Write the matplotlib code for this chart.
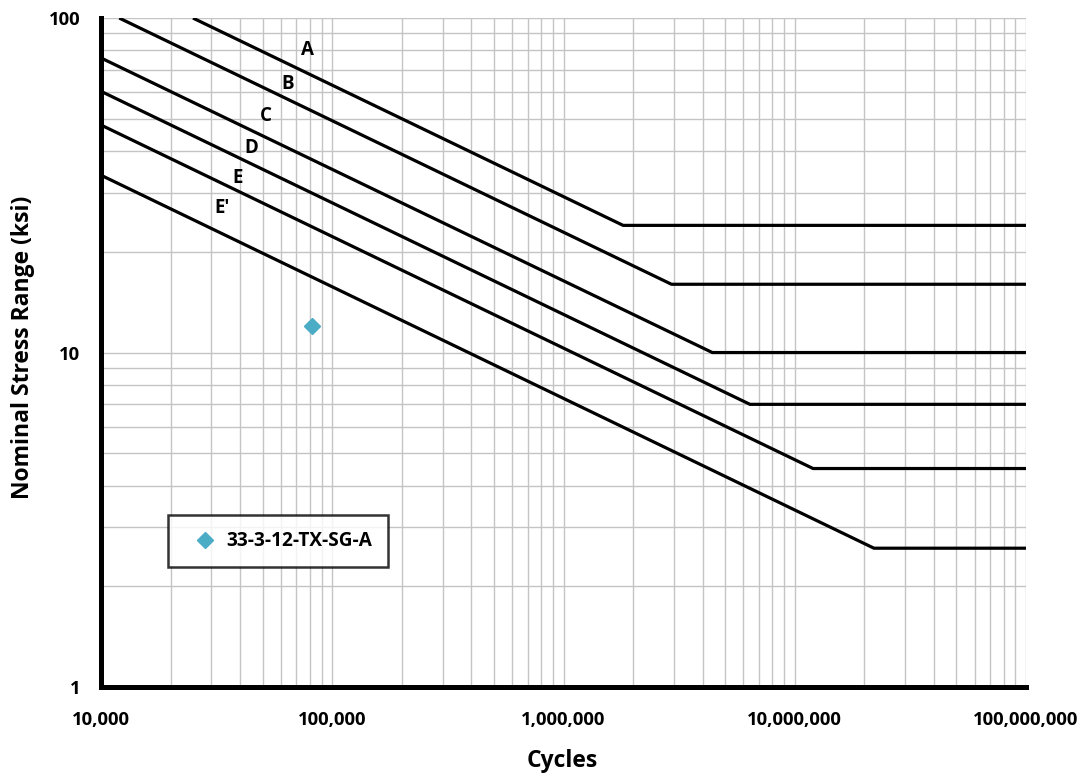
import matplotlib
matplotlib.use("Agg")
import matplotlib.pyplot as plt
from matplotlib.ticker import FixedLocator, LogLocator, NullFormatter

plt.rcParams['font.family'] = ['Open Sans', 'DejaVu Sans']
plt.rcParams['font.weight'] = 'bold'

# S-N curve knee points (cycles, stress range ksi)
categories = ["A", "B", "C", "D", "E", "E'"]
curve_n = [
    [25000, 1.81e6, 1e8],
    [12000, 2.93e6, 1e8],
    [10000, 4.4e6, 1e8],
    [10000, 6.4e6, 1e8],
    [10000, 1.2e7, 1e8],
    [10000, 2.2e7, 1e8],
]
curve_s = [
    [100, 24, 24],
    [100, 16, 16],
    [76, 10, 10],
    [60.4, 7, 7],
    [47.9, 4.5, 4.5],
    [33.9, 2.6, 2.6],
]
# positions of the curve letters
label_n = [77900, 64400, 51600, 44600, 39100, 33400]
label_s = [80.2, 63.5, 50.9, 40.8, 33.3, 27.0]

test_name = "33-3-12-TX-SG-A"
test_n = [82000]
test_s = [12]

fig = plt.figure(figsize=(10.87, 7.76), dpi=100)
ax = fig.add_axes([0.0929, 0.1147, 0.851, 0.862])

for xs, ys in zip(curve_n, curve_s):
    ax.plot(xs, ys, color="black", lw=2.3, solid_capstyle="butt", zorder=3)

for lab, xn, ys in zip(categories, label_n, label_s):
    ax.text(xn, ys, lab, fontsize=13.5, fontweight="bold", ha="center", va="center", zorder=4)

ax.plot(test_n, test_s, linestyle="none", marker="D", markersize=8,
        color="#4BACC6", label=test_name, zorder=5)

ax.set_xscale("log")
ax.set_yscale("log")
ax.set_xlim(1e4, 1e8)
ax.set_ylim(1, 100)

ax.xaxis.set_major_locator(FixedLocator([1e4, 1e5, 1e6, 1e7, 1e8]))
ax.set_xticklabels(["10,000", "100,000", "1,000,000", "10,000,000", "100,000,000"])
ax.yaxis.set_major_locator(FixedLocator([1, 10, 100]))
ax.set_yticklabels(["1", "10", "100"])
ax.xaxis.set_minor_locator(LogLocator(base=10, subs=range(2, 10)))
ax.yaxis.set_minor_locator(LogLocator(base=10, subs=range(2, 10)))
ax.xaxis.set_minor_formatter(NullFormatter())
ax.yaxis.set_minor_formatter(NullFormatter())

ax.grid(True, which="both", color="#c4c4c4", lw=1.0, zorder=0)
ax.set_axisbelow(True)
ax.tick_params(which="both", length=0, labelsize=13.3)
ax.tick_params(axis="x", pad=17)
ax.tick_params(axis="y", pad=15)

for side in ["top", "right"]:
    ax.spines[side].set_visible(False)
for side in ["left", "bottom"]:
    ax.spines[side].set_linewidth(3.6)
    ax.spines[side].set_color("black")

# axis titles placed in figure coords
fig.text(0.517, 0.019, "Cycles", fontsize=16.5, fontweight="bold", ha="center", va="center")
fig.text(0.021, 0.552, "Nominal Stress Range (ksi)", fontsize=16.5, fontweight="bold",
         rotation=90, ha="center", va="center")

leg = ax.legend(loc="upper left", bbox_to_anchor=(0.0727, 0.257), frameon=True,
                fancybox=False, borderpad=0.85, handletextpad=0.0, handlelength=2.2,
                borderaxespad=0, prop={"weight": "bold", "size": 13.7})
leg.get_frame().set_edgecolor("black")
leg.get_frame().set_linewidth(1.8)

fig.savefig("out.png", dpi=100)
